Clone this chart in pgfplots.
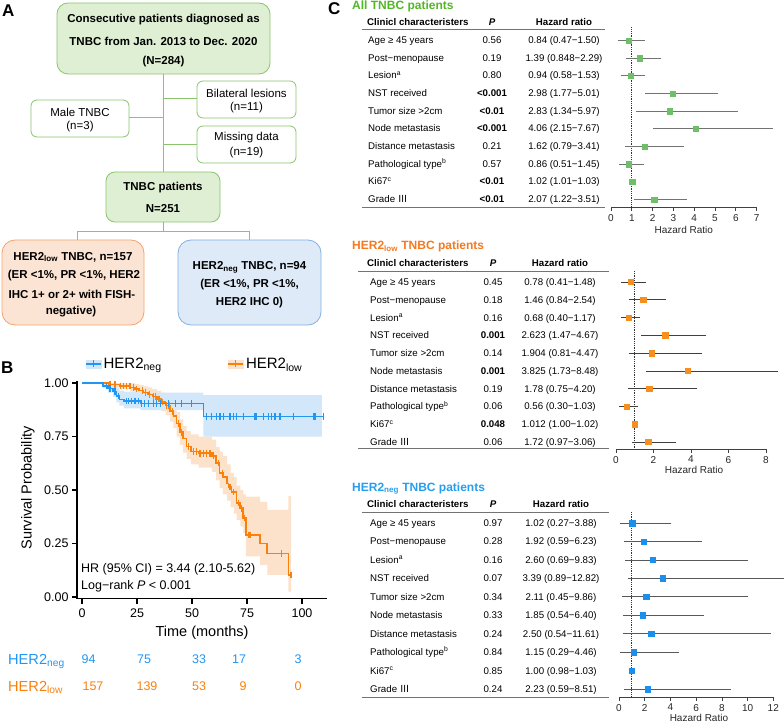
\documentclass[border=0pt]{standalone}
\usepackage{fontspec}
\setmainfont{Liberation Sans}
\newfontfamily\cjk{Noto Sans CJK SC}
\usepackage{pgfplots}
\pgfplotsset{compat=1.18}
\usepackage{pgfplotstable}
\usepgfplotslibrary{fillbetween}

\definecolor{gfill}{RGB}{223,239,212}
\definecolor{gline}{RGB}{138,196,108}
\definecolor{ofill}{RGB}{252,228,212}
\definecolor{oline}{RGB}{241,163,112}
\definecolor{bfill}{RGB}{222,234,248}
\definecolor{bline}{RGB}{128,176,228}
\definecolor{kmblue}{RGB}{33,150,243}
\definecolor{kmorange}{RGB}{250,128,12}
\definecolor{bandblue}{RGB}{210,231,250}
\definecolor{bandorange}{RGB}{252,226,203}
\definecolor{tgreen}{RGB}{82,183,40}
\definecolor{torange}{RGB}{245,121,32}
\definecolor{tblue}{RGB}{38,158,240}
\definecolor{mgreen}{RGB}{110,192,104}
\definecolor{morange}{RGB}{247,143,30}
\definecolor{mblue}{RGB}{28,142,235}

\newcommand{\fs}[1]{\fontsize{#1}{#1}\selectfont}

% forest plot data: y = row position (10 = first row)
\pgfplotstableread{
y hr lo hi
10 0.84 0.47 1.50
9 1.39 0.848 2.29
8 0.94 0.58 1.53
7 2.98 1.77 5.01
6 2.83 1.34 5.97
5 4.06 2.15 7.67
4 1.62 0.79 3.41
3 0.86 0.51 1.45
2 1.02 1.01 1.03
1 2.07 1.22 3.51
}\tall
\pgfplotstableread{
y hr lo hi
10 0.78 0.41 1.48
9 1.46 0.84 2.54
8 0.68 0.40 1.17
7 2.623 1.47 4.67
6 1.904 0.81 4.47
5 3.825 1.73 8.48
4 1.78 0.75 4.20
3 0.56 0.30 1.03
2 1.012 1.00 1.02
1 1.72 0.97 3.06
}\tlow
\pgfplotstableread{
y hr lo hi
10 1.02 0.27 3.88
9 1.92 0.59 6.23
8 2.60 0.69 9.83
7 3.39 0.89 12.82
6 2.11 0.45 9.86
5 1.85 0.54 6.40
4 2.50 0.54 11.61
3 1.15 0.29 4.46
2 1.00 0.98 1.03
1 2.23 0.59 8.51
}\tneg

\pgfplotsset{forest/.style={
  scale only axis, clip=false,
  axis x line=bottom, axis y line=none, ytick=\empty,
  x axis line style={-, black!75, line width=0.7pt},
  tick align=outside, major tick length=3.5pt,
  xtick style={black!75, line width=0.7pt},
  tick label style={font=\fs{10}, black!85},
  /pgf/number format/assume math mode=true,
  xlabel={Hazard Ratio}, xlabel style={font=\fs{10}, black!85, anchor=center},
}}
\pgfplotsset{fpts/.style={only marks, mark=square*, mark size=2.7pt, forget plot,
  error bars/.cd, x dir=both, x explicit,
  error bar style={line width=0.7pt, #1},
  error mark options={line width=0.7pt, mark size=2.5pt, #1},
  /pgfplots/.cd}}

\newcommand{\trow}[4]{%
  \node[anchor=base west] at (\cl,#1+3.5) {#2};
  \node[anchor=base] at (\cp,#1+3.5) {#3};
  \node[anchor=base] at (\ch,#1+3.5) {#4};}
\newcommand{\thead}[1]{%
  \node[anchor=base west] at (367,#1+3.5) {\bfseries Clinicl characteristers};
  \node[anchor=base] at (\cp,#1+3.5) {\bfseries\itshape P};
  \node[anchor=base] at (\ch,#1+3.5) {\bfseries Hazard ratio};}

\begin{document}
\begin{tikzpicture}
% pixel frame: (x,y) from the top-left corner
\begin{scope}[x=1pt, y=-1pt, shift={(0pt,724pt)}]

% ---------------- panel A ----------------
\node[anchor=base west, inner sep=0, font=\bfseries\fs{17}] at (2,17) {A};
\begin{scope}[line width=0.8pt]
\draw[gline] (163,74) -- (163,172);
\draw[gline] (163,98) -- (197,98);
\draw[gline] (129,117) -- (163,117);
\draw[gline] (163,144) -- (197,144);
\draw[gline] (163,222) -- (163,231);
\draw[gline] (77,240) -- (77,231) -- (249,231) -- (249,240);
\draw[gline, fill=gfill, rounded corners=11pt] (57,3) rectangle (270,74);
\draw[gline, fill=white, rounded corners=6pt] (197,81) rectangle (296,118);
\draw[gline, fill=white, rounded corners=6pt] (31,100) rectangle (129,137);
\draw[gline, fill=white, rounded corners=6pt] (197,126) rectangle (296,163);
\draw[gline, fill=gfill, rounded corners=9pt] (106,172) rectangle (220,222);
\draw[oline, fill=ofill, rounded corners=13pt] (2,240) rectangle (144,325);
\draw[bline, fill=bfill, rounded corners=13pt] (178,240) rectangle (321,325);
\end{scope}
\begin{scope}[every node/.style={font=\fs{11.5}, inner sep=0}]
\node[font=\bfseries\fs{11.5}] at (163.5,20) {Consecutive patients diagnosed as};
\node[font=\bfseries\fs{11.5}] at (163.5,41) {TNBC from Jan. 2013 to Dec. 2020};
\node[font=\bfseries\fs{11.5}] at (163.5,62) {(N=284)};
\node at (246.5,93) {Bilateral lesions};
\node at (246.5,108) {(n=11)};
\node at (80,112) {Male TNBC};
\node at (80,127) {(n=3)};
\node at (246.5,138) {Missing data};
\node at (246.5,153) {(n=19)};
\node[font=\bfseries\fs{11.5}] at (163,188) {TNBC patients};
\node[font=\bfseries\fs{11.5}] at (163,209) {N=251};
\node[font=\bfseries\fs{11.5}] at (73,257) {HER2\textsubscript{low} TNBC, n=157};
\node[font=\bfseries\fs{11.5}] at (74,275.5) {(ER <1\%, PR <1\%, HER2};
\node[font=\bfseries\fs{11.5}] at (72,294) {IHC 1+ or 2+ with FISH-};
\node[font=\bfseries\fs{11.5}] at (71,312) {negative)};
\node[font=\bfseries\fs{11.5}] at (249.5,267) {HER2\textsubscript{neg} TNBC, n=94};
\node[font=\bfseries\fs{11.5}] at (249.5,285) {(ER <1\%, PR <1\%,};
\node[font=\bfseries\fs{11.5}] at (249.5,303) {HER2 IHC 0)};
\end{scope}

% ---------------- panel B texts ----------------
\node[anchor=base west, inner sep=0, font=\bfseries\fs{17}] at (1,373) {B};
\begin{scope}[every node/.style={inner sep=0, font=\fs{12.5}}]
\node[anchor=base west] at (81,572.5) {HR (95\% CI) = 3.44 (2.10-5.62)};
\node[anchor=base west] at (81,589.5) {Log−rank \textit{P} < 0.001};
\node[anchor=base west, font=\fs{14.6}, kmblue] at (8,664) {HER2\textsubscript{neg}};
\node[anchor=base west, font=\fs{14.6}, kmorange] at (8,691) {HER2\textsubscript{low}};
\node[anchor=base, kmblue] at (88.7,663.5) {94};
\node[anchor=base, kmblue] at (144,663.5) {75};
\node[anchor=base, kmblue] at (199,663.5) {33};
\node[anchor=base, kmblue] at (239,663.5) {17};
\node[anchor=base, kmblue] at (298,663.5) {3};
\node[anchor=base, kmorange] at (93,690.5) {157};
\node[anchor=base, kmorange] at (147,690.5) {139};
\node[anchor=base, kmorange] at (199,690.5) {53};
\node[anchor=base, kmorange] at (243,690.5) {9};
\node[anchor=base, kmorange] at (298,690.5) {0};
\end{scope}

% ---------------- panel C tables ----------------
\node[anchor=base west, inner sep=0, font=\bfseries\fs{17}] at (328,15) {C};
\begin{scope}[every node/.style={inner sep=0, font=\fs{9.7}}]
\node[anchor=base west, font=\bfseries\fs{12}, tgreen] at (352,9.5) {All TNBC patients};
\node[anchor=base west, font=\bfseries\fs{12}, torange] at (352,250) {HER2\textsubscript{low} TNBC patients};
\node[anchor=base west, font=\bfseries\fs{12}, tblue] at (352,491) {HER2\textsubscript{neg} TNBC patients};

\def\cl{368}\def\cp{492}\def\ch{564}
\thead{22}
\trow{40}{Age ≥ 45 years}{0.56}{0.84 (0.47−1.50)}
\trow{57.7}{Post−menopause}{0.19}{1.39 (0.848−2.29)}
\trow{75.3}{Lesion\textsuperscript{a}}{0.80}{0.94 (0.58−1.53)}
\trow{93}{NST received}{\textbf{<0.001}}{2.98 (1.77−5.01)}
\trow{110.7}{Tumor size >2cm}{\textbf{<0.01}}{2.83 (1.34−5.97)}
\trow{128.3}{Node metastasis}{\textbf{<0.001}}{4.06 (2.15−7.67)}
\trow{146}{Distance metastasis}{0.21}{1.62 (0.79−3.41)}
\trow{163.7}{Pathological type\textsuperscript{b}}{0.57}{0.86 (0.51−1.45)}
\trow{181.3}{Ki67\textsuperscript{c}}{\textbf{<0.01}}{1.02 (1.01−1.03)}
\trow{199}{Grade {\cjk Ⅲ}}{\textbf{<0.01}}{2.07 (1.22−3.51)}

\def\cl{370}\def\cp{493}\def\ch{560}
\thead{263}
\trow{282}{Age ≥ 45 years}{0.45}{0.78 (0.41−1.48)}
\trow{299.8}{Post−menopause}{0.18}{1.46 (0.84−2.54)}
\trow{317.6}{Lesion\textsuperscript{a}}{0.16}{0.68 (0.40−1.17)}
\trow{335.3}{NST received}{\textbf{0.001}}{2.623 (1.47−4.67)}
\trow{353.1}{Tumor size >2cm}{0.14}{1.904 (0.81−4.47)}
\trow{370.9}{Node metastasis}{\textbf{0.001}}{3.825 (1.73−8.48)}
\trow{388.7}{Distance metastasis}{0.19}{1.78 (0.75−4.20)}
\trow{406.4}{Pathological type\textsuperscript{b}}{0.06}{0.56 (0.30−1.03)}
\trow{424.2}{Ki67\textsuperscript{c}}{\textbf{0.048}}{1.012 (1.00−1.02)}
\trow{442}{Grade {\cjk Ⅲ}}{0.06}{1.72 (0.97−3.06)}

\def\cl{370}\def\cp{493}\def\ch{561}
\thead{504}
\trow{523}{Age ≥ 45 years}{0.97}{1.02 (0.27−3.88)}
\trow{541.4}{Post−menopause}{0.28}{1.92 (0.59−6.23)}
\trow{559.9}{Lesion\textsuperscript{a}}{0.16}{2.60 (0.69−9.83)}
\trow{578.3}{NST received}{0.07}{3.39 (0.89−12.82)}
\trow{596.8}{Tumor size >2cm}{0.34}{2.11 (0.45−9.86)}
\trow{615.2}{Node metastasis}{0.33}{1.85 (0.54−6.40)}
\trow{633.7}{Distance metastasis}{0.24}{2.50 (0.54−11.61)}
\trow{652.1}{Pathological type\textsuperscript{b}}{0.84}{1.15 (0.29−4.46)}
\trow{670.6}{Ki67\textsuperscript{c}}{0.85}{1.00 (0.98−1.03)}
\trow{689}{Grade {\cjk Ⅲ}}{0.24}{2.23 (0.59−8.51)}
\end{scope}
\begin{scope}[line width=0.8pt, black!55]
\draw (362,29) -- (605,29); \draw (362,207.5) -- (605,207.5);
\draw (358,271) -- (609,271); \draw (358,448.5) -- (609,448.5);
\draw (362,512) -- (609,512); \draw (362,697) -- (609,697);
\end{scope}
\end{scope}

% ---------------- panel B: Kaplan-Meier ----------------
\begin{axis}[at={(77pt,125.5pt)}, anchor=south west, scale only axis,
  width=250.1pt, height=217.6pt,
  xmin=-2.3, xmax=111.4, ymin=-0.007, ymax=1.01,
  axis lines=left, axis line style={-, line width=1.3pt},
  tick align=outside, major tick length=5pt,
  tick style={line width=1.3pt, black},
  xtick={0,25,50,75,100}, ytick={0,0.25,0.5,0.75,1},
  y tick label style={/pgf/number format/fixed, /pgf/number format/fixed zerofill,
    /pgf/number format/precision=2},
  tick label style={font=\fs{12.5}},
  /pgf/number format/assume math mode=true,
  xticklabel style={yshift=-1.5pt},
  xlabel={Time (months)}, ylabel={Survival Probability},
  label style={font=\fs{14.5}},
  xlabel style={at={(axis description cs:0.5,-0.159)}, anchor=center},
  ylabel style={at={(axis description cs:-0.196,0.508)}, anchor=center},
  legend style={at={(axis description cs:0.032,1.078)}, anchor=west,
    draw=none, fill=none, font=\fs{15}, legend columns=2, inner sep=0pt,
    /tikz/every even column/.append style={column sep=64pt}},
  ]
\addlegendimage{legend image code/.code={
  \fill[bandblue] (0pt,-4pt) rectangle (15pt,4pt);
  \draw[kmblue, line width=1.4pt] (0pt,0pt) -- (15pt,0pt);
  \draw[kmblue, line width=1.2pt] (7.5pt,-3.5pt) -- (7.5pt,3.5pt);}}
\addlegendentry{HER2\textsubscript{neg}}
\addlegendimage{legend image code/.code={
  \fill[bandorange] (0pt,-4pt) rectangle (15pt,4pt);
  \draw[kmorange, line width=1.4pt] (0pt,0pt) -- (15pt,0pt);
  \draw[kmorange, line width=1.2pt] (7.5pt,-3.5pt) -- (7.5pt,3.5pt);}}
\addlegendentry{HER2\textsubscript{low}}

% confidence bands
\addplot[draw=none, const plot, name path=ou, forget plot] coordinates {
(0,1) (24,0.995) (26,0.99) (28,0.985) (30,0.98) (32,0.972) (34,0.965) (36,0.955)
(38,0.94) (40,0.915) (41.5,0.895) (43,0.865) (44.5,0.83) (46,0.80) (47.5,0.775)
(49.5,0.76) (53,0.75) (59,0.735) (61,0.70) (62.5,0.68) (64,0.66) (66,0.62)
(67.5,0.58) (69,0.56) (70.3,0.52) (72,0.50) (73.3,0.48) (74.5,0.469) (80.9,0.445)
(84.2,0.407) (93.8,0.472) (95,0.472)};
\addplot[draw=none, const plot, name path=ol, forget plot] coordinates {
(0,1) (12,0.98) (17,0.97) (22,0.96) (24,0.95) (26,0.94) (28,0.925) (30,0.915)
(32,0.90) (34,0.885) (36,0.87) (38,0.85) (40,0.82) (41.5,0.79) (43,0.75)
(44.5,0.71) (46,0.675) (47.5,0.645) (49.5,0.62) (53,0.605) (59,0.585) (61,0.545)
(62.5,0.51) (64,0.48) (66,0.45) (67.5,0.42) (69,0.39) (70.3,0.36) (72,0.33)
(73.3,0.30) (74.5,0.19) (80.9,0.15) (84.2,0.103) (93.8,0.025) (95,0.025)};
\addplot[fill=bandorange, draw=none, forget plot] fill between[of=ou and ol];
\addplot[draw=none, const plot, name path=bu, forget plot] coordinates {
(0,1) (14.1,0.99) (15.6,0.98) (17,0.965) (19,0.96) (26.5,0.955) (55.2,0.944) (109,0.944)};
\addplot[draw=none, const plot, name path=bl, forget plot] coordinates {
(0,1) (9.6,0.975) (11.9,0.955) (14.1,0.935) (15.6,0.91) (17,0.895) (19,0.882)
(26.5,0.874) (55.2,0.75) (109,0.75)};
\addplot[fill=bandblue, draw=none, forget plot] fill between[of=bu and bl];

% survival curves
\addplot[draw=kmorange, line width=1.6pt, const plot, forget plot] coordinates {
(0,1) (12,0.993) (17,0.987) (22,0.98) (24,0.973) (26,0.965) (28,0.955) (30,0.947)
(32,0.937) (34,0.925) (36,0.912) (38,0.895) (40,0.868) (41.5,0.845) (43,0.81)
(44.5,0.77) (46,0.74) (47.5,0.703) (49.5,0.68) (53,0.672) (59,0.66) (61,0.626)
(62.5,0.58) (64,0.56) (66,0.53) (66.5,0.515) (68,0.49) (70.3,0.44) (71.8,0.415)
(73.3,0.37) (74.5,0.29) (80.9,0.251) (84.2,0.204) (93.8,0.103) (95,0.103)};
\addplot[kmorange, line width=1.2pt, only marks, mark=|, mark size=3.3pt, forget plot] coordinates {
(12.7,0.993) (15,0.993) (17.3,0.987) (18.8,0.987) (20.3,0.987) (21.8,0.987)
(23.3,0.98) (24.8,0.973) (27.5,0.965) (29,0.955) (30.5,0.947) (32.5,0.937)
(33.5,0.937) (35,0.925) (36.5,0.912) (38.5,0.895) (39.5,0.895) (41,0.868)
(43.8,0.81) (45.3,0.77) (48.5,0.703) (50.5,0.68) (52,0.68) (53.6,0.672)
(55.2,0.672) (56.7,0.672) (58.2,0.672) (59.7,0.66) (61.9,0.626) (63.9,0.58)
(67.3,0.515) (68.8,0.49) (71,0.44) (72.5,0.415) (74,0.37) (75.9,0.29)
(76.5,0.29) (90.8,0.204) (95,0.103)};
\addplot[draw=kmblue, line width=1.6pt, const plot, forget plot] coordinates {
(0,1) (9.6,0.987) (11.9,0.975) (14.1,0.96) (15.6,0.94) (17,0.924) (19,0.917)
(26.5,0.905) (55.2,0.843) (110,0.843)};
\addplot[kmblue, line width=1.2pt, only marks, mark=|, mark size=3.3pt, forget plot] coordinates {
(11.2,0.987) (12.7,0.975) (15,0.96) (16.5,0.94) (20.3,0.917) (21,0.917)
(22.6,0.917) (24.1,0.917) (25.6,0.917) (27.1,0.905) (28.5,0.905) (30.2,0.905)
(32.4,0.905) (33.9,0.905) (35.5,0.905) (39.2,0.905) (42.3,0.905) (45.3,0.905)
(49.8,0.905) (56.7,0.843) (58.9,0.843) (61.2,0.843) (62.7,0.843) (64.2,0.843)
(67.3,0.843) (68.8,0.843) (70.3,0.843) (73.3,0.843) (78.6,0.843) (79.4,0.843)
(82.4,0.843) (84.7,0.843) (86.2,0.843) (87.7,0.843) (90,0.843) (96,0.843)
(105.2,0.843) (105.9,0.843) (109.7,0.843)};
\end{axis}

% ---------------- panel C: forest plots ----------------
\begin{axis}[forest, at={(611pt,516.5pt)}, anchor=south west,
  width=145.6pt, height=184.7pt, xmin=0, xmax=7, ymin=0.547, ymax=11,
  xtick={0,1,...,7}, xlabel style={at={(axis description cs:0.5,-0.119)}}]
\addplot[densely dotted, line width=0.8pt, black!80, forget plot] coordinates {(1,10.74) (1,0.547)};
\addplot[mgreen, fpts=black!55] table[x=hr, y=y,
  x error plus expr=\thisrow{hi}-\thisrow{hr}, x error minus expr=\thisrow{hr}-\thisrow{lo}] {\tall};
\end{axis}

\begin{axis}[forest, at={(616pt,275pt)}, anchor=south west,
  width=150pt, height=184.8pt, xmin=0, xmax=8, ymin=0.606, ymax=11,
  xtick={0,2,...,8}, xlabel style={at={(axis description cs:0.52,-0.114)}}]
\addplot[densely dotted, line width=0.8pt, black!80, forget plot] coordinates {(1,10.62) (1,0.606)};
\addplot[morange, fpts=black!75] table[x=hr, y=y,
  x error plus expr=\thisrow{hi}-\thisrow{hr}, x error minus expr=\thisrow{hr}-\thisrow{lo}] {\tlow};
\end{axis}

\begin{axis}[forest, at={(619pt,27pt)}, anchor=south west,
  width=154.3pt, height=192.4pt, xmin=0, xmax=12, ymin=0.566, ymax=11,
  xtick={0,2,...,12}, xlabel style={at={(axis description cs:0.518,-0.109)}}]
\addplot[densely dotted, line width=0.8pt, black!80, forget plot] coordinates {(1,10.6) (1,0.566)};
\addplot[mblue, fpts=black!65] table[x=hr, y=y,
  x error plus expr=\thisrow{hi}-\thisrow{hr}, x error minus expr=\thisrow{hr}-\thisrow{lo}] {\tneg};
\end{axis}

\pgfresetboundingbox
\path (0pt,0pt) rectangle (784pt,724pt);
\end{tikzpicture}
\end{document}
